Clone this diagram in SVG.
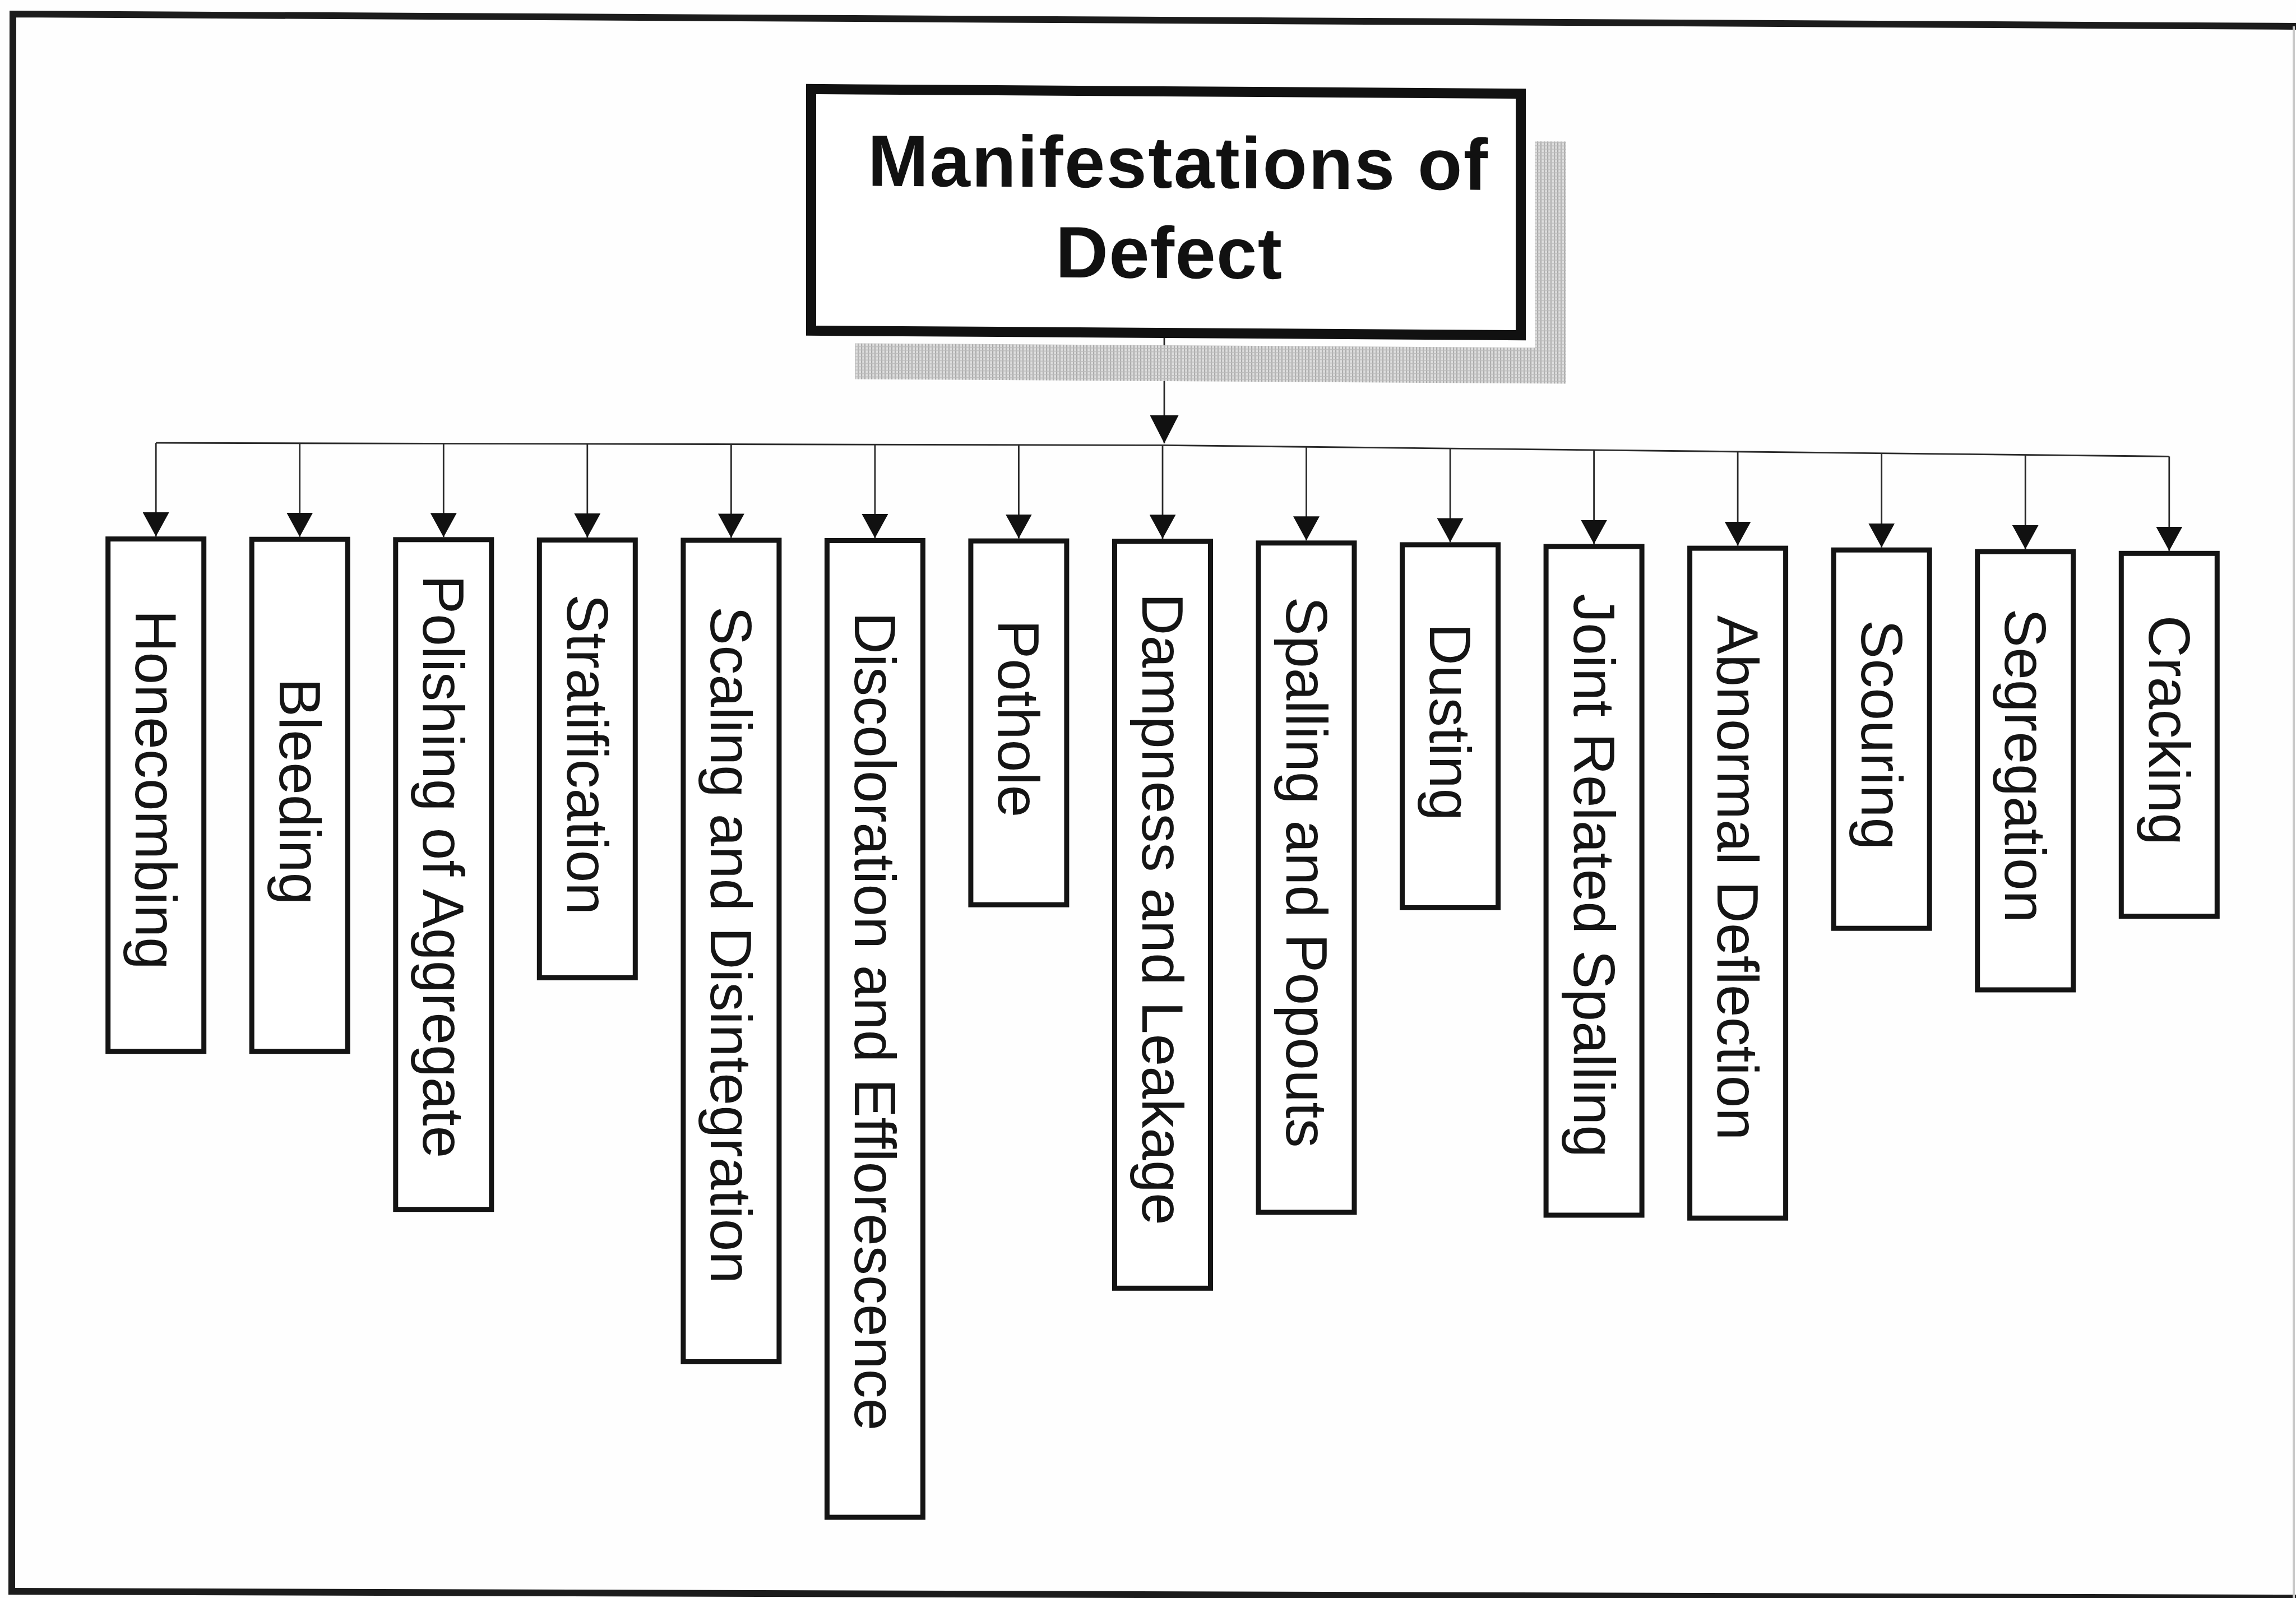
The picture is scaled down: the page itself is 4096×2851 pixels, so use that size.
<svg xmlns="http://www.w3.org/2000/svg" width="4096" height="2851" viewBox="0 0 4096 2851">
  <defs>
    <style>
      .frame { fill: none; stroke: #1c1c1c; stroke-width: 12; stroke-linecap: square; }
      .frame-faint { fill: none; stroke: #c9c9c9; stroke-width: 4; }
      .title-box { fill: #ffffff; stroke: #111111; stroke-width: 18; }
      .title-text { font-family: "Liberation Sans", Arial, Helvetica, sans-serif; font-weight: bold; font-size: 130px; fill: #111111; text-anchor: middle; }
      .child-box { fill: #ffffff; stroke: #141414; stroke-width: 9; }
      .child-text { font-family: "Liberation Sans", Arial, Helvetica, sans-serif; font-size: 104px; fill: #151515; text-anchor: middle; }
      .wire { fill: none; stroke: #2a2a2a; stroke-width: 2.8; }
    </style>
    <!-- halftone fill used for the title drop shadow -->
    <pattern id="halftone" width="6" height="6" patternUnits="userSpaceOnUse">
      <rect width="6" height="6" fill="#dedede"/>
      <rect x="0" y="0" width="2" height="6" fill="#a8a8a8"/>
      <rect x="0" y="3" width="6" height="1.5" fill="#bcbcbc"/>
    </pattern>
    <marker id="arrow" markerUnits="userSpaceOnUse" markerWidth="43" markerHeight="47" refX="43" refY="23.5" orient="auto" viewBox="0 0 43 47">
      <path d="M0,0 L43,23.5 L0,47 Z" fill="#111111"/>
    </marker>
    <marker id="arrow-lg" markerUnits="userSpaceOnUse" markerWidth="50" markerHeight="51" refX="50" refY="25.5" orient="auto" viewBox="0 0 50 51">
      <path d="M0,0 L50,25.5 L0,51 Z" fill="#111111"/>
    </marker>
  </defs>

  <rect width="4096" height="2851" fill="#fefefe"/>

  <!-- outer frame -->
  <g id="frame">
    <path class="frame" d="M21,2839 L23,25 L4100,47"/>
    <path class="frame" d="M21,2839 L4100,2851"/>
    <path class="frame-faint" d="M4092,47 L4092,2851"/>
  </g>

  <!-- connectors -->
  <g id="connectors">
    <path class="wire" d="M2077,603 L2077,791" marker-end="url(#arrow-lg)"/>
    <polyline class="wire" points="278.2,790.2 2077,794.4 3869.8,814.4"/>
    <path class="wire" d="M278.2,790.2 V957.1" marker-end="url(#arrow)"/>
    <path class="wire" d="M534.7,790.8 V957.7" marker-end="url(#arrow)"/>
    <path class="wire" d="M791.3,791.4 V958.3" marker-end="url(#arrow)"/>
    <path class="wire" d="M1047.8,792.0 V958.9" marker-end="url(#arrow)"/>
    <path class="wire" d="M1304.4,792.6 V959.4" marker-end="url(#arrow)"/>
    <path class="wire" d="M1560.9,793.2 V960.0" marker-end="url(#arrow)"/>
    <path class="wire" d="M1817.4,793.8 V960.6" marker-end="url(#arrow)"/>
    <path class="wire" d="M2074.0,794.4 V961.2" marker-end="url(#arrow)"/>
    <path class="wire" d="M2330.5,797.2 V964.3" marker-end="url(#arrow)"/>
    <path class="wire" d="M2587.1,800.1 V967.4" marker-end="url(#arrow)"/>
    <path class="wire" d="M2843.6,803.0 V970.5" marker-end="url(#arrow)"/>
    <path class="wire" d="M3100.1,805.8 V973.6" marker-end="url(#arrow)"/>
    <path class="wire" d="M3356.7,808.7 V976.7" marker-end="url(#arrow)"/>
    <path class="wire" d="M3613.2,811.5 V979.7" marker-end="url(#arrow)"/>
    <path class="wire" d="M3869.8,814.4 V982.8" marker-end="url(#arrow)"/>
  </g>

  <!-- root node with halftone drop shadow -->
  <g id="node-title" transform="translate(2080,378) skewY(0.37) translate(-2080,-378)">
    <path d="M1525,616 H2738 V248 H2794 V680 H1525 Z" fill="url(#halftone)"/>
    <rect class="title-box" x="1447" y="163" width="1266" height="431"/>
    <text class="title-text" x="2101" y="335" textLength="1106" lengthAdjust="spacing">Manifestations of</text>
    <text class="title-text" x="2085" y="496" textLength="404" lengthAdjust="spacing">Defect</text>
  </g>

  <!-- manifestation nodes (vertical labels) -->
  <g id="node-honecombing">
    <rect class="child-box" x="192.7" y="961.6" width="171" height="914.1"/>
    <text class="child-text" transform="translate(278.2,1409) rotate(90)" y="36">Honecombing</text>
  </g>
  <g id="node-bleeding">
    <rect class="child-box" x="449.2" y="962.2" width="171" height="913.5"/>
    <text class="child-text" transform="translate(534.7,1412) rotate(90)" y="36">Bleeding</text>
  </g>
  <g id="node-polishing">
    <rect class="child-box" x="705.8" y="962.8" width="171" height="1194.9"/>
    <text class="child-text" transform="translate(791.3,1546) rotate(90)" y="36">Polishing of Aggregate</text>
  </g>
  <g id="node-stratification">
    <rect class="child-box" x="962.3" y="963.4" width="171" height="781.1"/>
    <text class="child-text" transform="translate(1047.8,1346) rotate(90)" y="36">Stratification</text>
  </g>
  <g id="node-scaling">
    <rect class="child-box" x="1218.9" y="963.9" width="171" height="1465.6"/>
    <text class="child-text" transform="translate(1304.4,1686) rotate(90)" y="36">Scaling and Disintegration</text>
  </g>
  <g id="node-discoloration">
    <rect class="child-box" x="1475.4" y="964.5" width="171" height="1742.5"/>
    <text class="child-text" transform="translate(1560.9,1822) rotate(90)" y="36">Discoloration and Efflorescence</text>
  </g>
  <g id="node-pothole">
    <rect class="child-box" x="1731.9" y="965.1" width="171" height="649.1"/>
    <text class="child-text" transform="translate(1817.4,1282) rotate(90)" y="36">Pothole</text>
  </g>
  <g id="node-dampness">
    <rect class="child-box" x="1988.5" y="965.7" width="171" height="1332.6"/>
    <text class="child-text" transform="translate(2074.0,1622) rotate(90)" y="36">Dampness and Leakage</text>
  </g>
  <g id="node-spalling">
    <rect class="child-box" x="2245.0" y="968.8" width="171" height="1194.1"/>
    <text class="child-text" transform="translate(2330.5,1556) rotate(90)" y="36">Spalling and Popouts</text>
  </g>
  <g id="node-dusting">
    <rect class="child-box" x="2501.6" y="971.9" width="171" height="647.5"/>
    <text class="child-text" transform="translate(2587.1,1288) rotate(90)" y="36">Dusting</text>
  </g>
  <g id="node-joint-spalling">
    <rect class="child-box" x="2758.1" y="975.0" width="171" height="1193.0"/>
    <text class="child-text" transform="translate(2843.6,1562) rotate(90)" y="36">Joint Related Spalling</text>
  </g>
  <g id="node-abnormal-deflection">
    <rect class="child-box" x="3014.6" y="978.1" width="171" height="1195.1"/>
    <text class="child-text" transform="translate(3100.1,1566) rotate(90)" y="36">Abnormal Deflection</text>
  </g>
  <g id="node-scouring">
    <rect class="child-box" x="3271.2" y="981.2" width="171" height="675.0"/>
    <text class="child-text" transform="translate(3356.7,1311) rotate(90)" y="36">Scouring</text>
  </g>
  <g id="node-segregation">
    <rect class="child-box" x="3527.7" y="984.2" width="171" height="781.8"/>
    <text class="child-text" transform="translate(3613.2,1366) rotate(90)" y="36">Segregation</text>
  </g>
  <g id="node-cracking">
    <rect class="child-box" x="3784.3" y="987.3" width="171" height="647.5"/>
    <text class="child-text" transform="translate(3869.8,1303) rotate(90)" y="36">Cracking</text>
  </g>
</svg>
